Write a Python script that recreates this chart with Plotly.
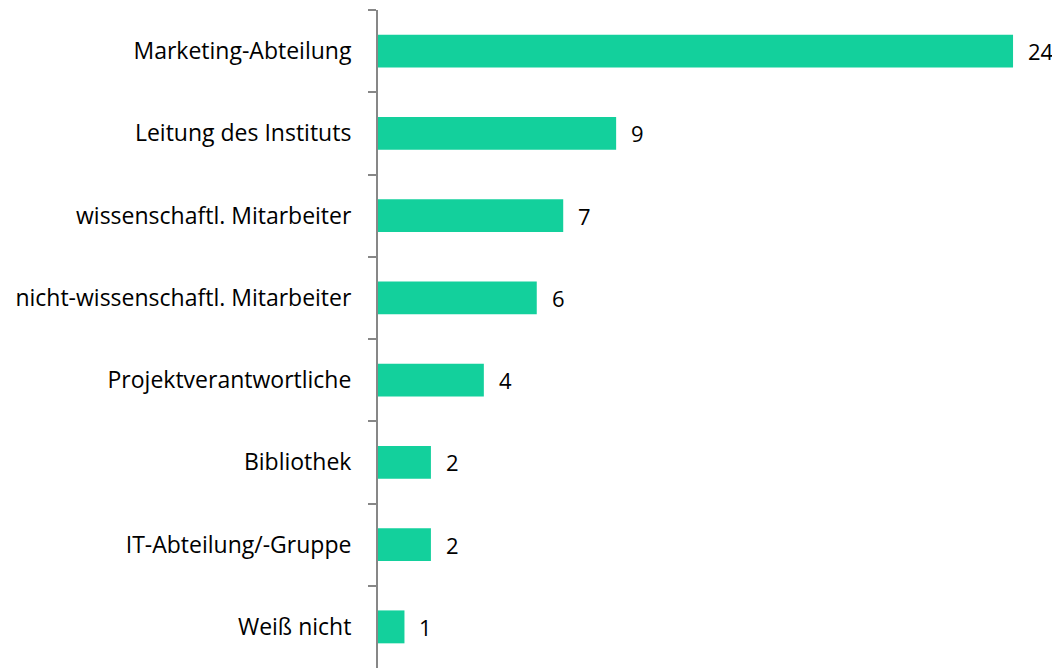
import plotly.graph_objects as go

categories = ["Marketing-Abteilung", "Leitung des Instituts", "wissenschaftl. Mitarbeiter",
              "nicht-wissenschaftl. Mitarbeiter", "Projektverantwortliche", "Bibliothek",
              "IT-Abteilung/-Gruppe", "Weiß nicht"]
values = [24, 9, 7, 6, 4, 2, 2, 1]

BAR = "#13D09C"
AXIS = "#878787"
FONT = "Open Sans"

fig = go.Figure(go.Bar(
    x=values, y=categories, orientation="h",
    marker=dict(color=BAR, line=dict(width=0)),
    width=0.4, hoverinfo="skip",
))

for c, v in zip(categories, values):
    fig.add_annotation(x=v, y=c, text=str(v), showarrow=False,
                       xanchor="left", yanchor="middle", xshift=13,
                       font=dict(family=FONT, size=22, color="#000000"))

fig.update_layout(
    width=1052, height=660,
    margin=dict(l=370, r=10, t=2, b=0),
    plot_bgcolor="white", paper_bgcolor="white",
    showlegend=False,
    font=dict(family=FONT, size=22, color="#000000"),
    xaxis=dict(range=[0, 672 / 26.46], visible=False, fixedrange=True),
    yaxis=dict(autorange="reversed", type="category",
               showline=True, linecolor=AXIS, linewidth=2,
               ticks="outside", ticklen=8, tickwidth=2, tickcolor=AXIS,
               tickson="boundaries", ticklabelstandoff=20,
               showgrid=False, zeroline=False,
               tickfont=dict(family=FONT, size=23, color="#000000")),
)

fig.write_html("out.html")
